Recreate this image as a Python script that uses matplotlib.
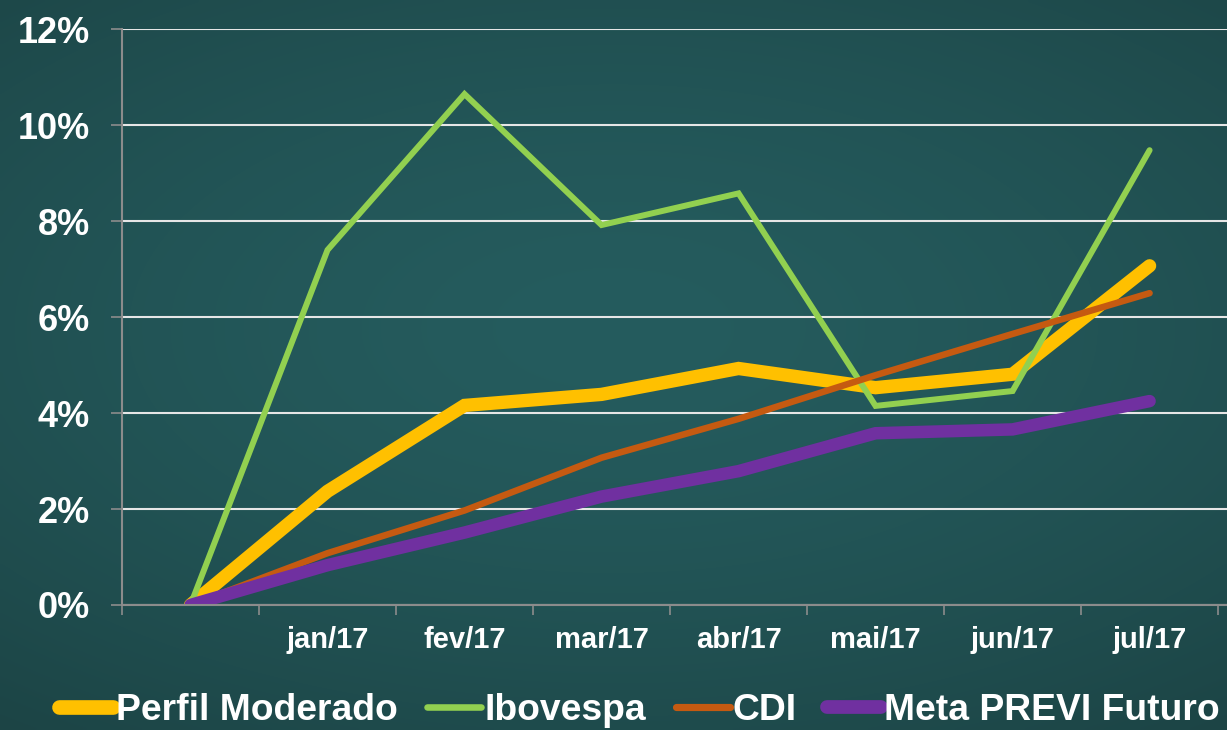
import matplotlib
matplotlib.use("Agg")
import matplotlib.pyplot as plt
import numpy as np
from matplotlib.ticker import FixedLocator, FuncFormatter

plt.rcParams['font.family'] = ['Liberation Sans', 'DejaVu Sans']
plt.rcParams['font.weight'] = 'bold'

categories = ['', 'jan/17', 'fev/17', 'mar/17', 'abr/17', 'mai/17', 'jun/17', 'jul/17']
perfil_moderado = [0.0, 2.37, 4.16, 4.39, 4.93, 4.53, 4.81, 7.07]
ibovespa = [0.0, 7.40, 10.65, 7.92, 8.58, 4.15, 4.46, 9.48]
cdi = [0.0, 1.08, 1.97, 3.07, 3.88, 4.79, 5.65, 6.50]
meta_previ = [0.0, 0.83, 1.51, 2.26, 2.79, 3.58, 3.66, 4.25]
y_ticks = [0, 2, 4, 6, 8, 10, 12]

series = [
    ('Perfil Moderado', perfil_moderado, '#FFC000', 9.6),
    ('Ibovespa', ibovespa, '#92D050', 4.3),
    ('CDI', cdi, '#C55A11', 4.7),
    ('Meta PREVI Futuro', meta_previ, '#7030A0', 9.0),
]

bg = '#22504F'
fig = plt.figure(figsize=(12.27, 7.30), dpi=100, facecolor=bg)

# chalkboard-like background: lighter teal centre, darker edges
bgax = fig.add_axes([0, 0, 1, 1], zorder=-10)
gx, gy = np.meshgrid(np.linspace(-1, 1, 300), np.linspace(-1, 1, 180))
r = np.clip(np.sqrt((gx * 0.85) ** 2 + ((gy + 0.1) * 1.0) ** 2), 0, 1.4) / 1.4
c_in = np.array([0x25, 0x5C, 0x5E]) / 255
c_out = np.array([0x1C, 0x44, 0x45]) / 255
img = c_in[None, None, :] * (1 - r[..., None] ** 1.5) + c_out[None, None, :] * (r[..., None] ** 1.5)
bgax.imshow(img, aspect='auto', extent=[0, 1, 0, 1], interpolation='bilinear')
bgax.set_axis_off()

ax = fig.add_axes([122 / 1227, 1 - 605 / 730, 1 - 122 / 1227, (605 - 29.3) / 730])
ax.set_facecolor('none')

x = list(range(len(categories)))
handles = []
for name, vals, color, lw in series:
    h, = ax.plot(x, vals, color=color, lw=lw, solid_capstyle='round',
                 solid_joinstyle='miter', label=name)
    handles.append(h)

ax.set_xlim(-0.5, len(categories) - 0.5 + 0.065)
ax.set_ylim(0, 12)

ax.yaxis.set_major_locator(FixedLocator(y_ticks))
ax.yaxis.set_major_formatter(FuncFormatter(lambda v, p: f'{v:.0f}%'))
ax.xaxis.set_major_locator(FixedLocator([i - 0.5 for i in range(len(categories) + 1)]))
ax.xaxis.set_major_formatter(FuncFormatter(lambda v, p: ''))
ax.xaxis.set_minor_locator(FixedLocator(x))
ax.set_xticklabels(categories, minor=True)

ax.tick_params(axis='y', which='major', length=8, width=1.2, color='#8C8C8C',
               labelsize=26, labelcolor='white', pad=15)
ax.tick_params(axis='x', which='major', length=7, width=1.2, color='#8C8C8C')
ax.tick_params(axis='x', which='minor', length=0, labelsize=21,
               labelcolor='white', pad=15)
for lab in ax.get_yticklabels() + ax.get_xticklabels(minor=True):
    lab.set_fontweight('bold')

ax.set_axisbelow(True)
ax.grid(axis='y', color='#E6E6E6', lw=1.5)
for s in ['top', 'right']:
    ax.spines[s].set_visible(False)
for s in ['left', 'bottom']:
    ax.spines[s].set_color('#8C8C8C')
    ax.spines[s].set_linewidth(1.5)

leg = fig.legend(handles=handles, loc='center', bbox_to_anchor=(639 / 1227, 1 - 711 / 730),
                 ncol=4, frameon=False, handlelength=1.45, handletextpad=0.08,
                 columnspacing=0.8, borderaxespad=0,
                 prop={'family': ['Liberation Sans', 'DejaVu Sans'], 'weight': 'bold', 'size': 26.8})
for t in leg.get_texts():
    t.set_color('white')
for lh in leg.get_lines():
    lh.set_linewidth(lh.get_linewidth() * 1.1)

fig.savefig('out.png', dpi=100, facecolor=bg)
